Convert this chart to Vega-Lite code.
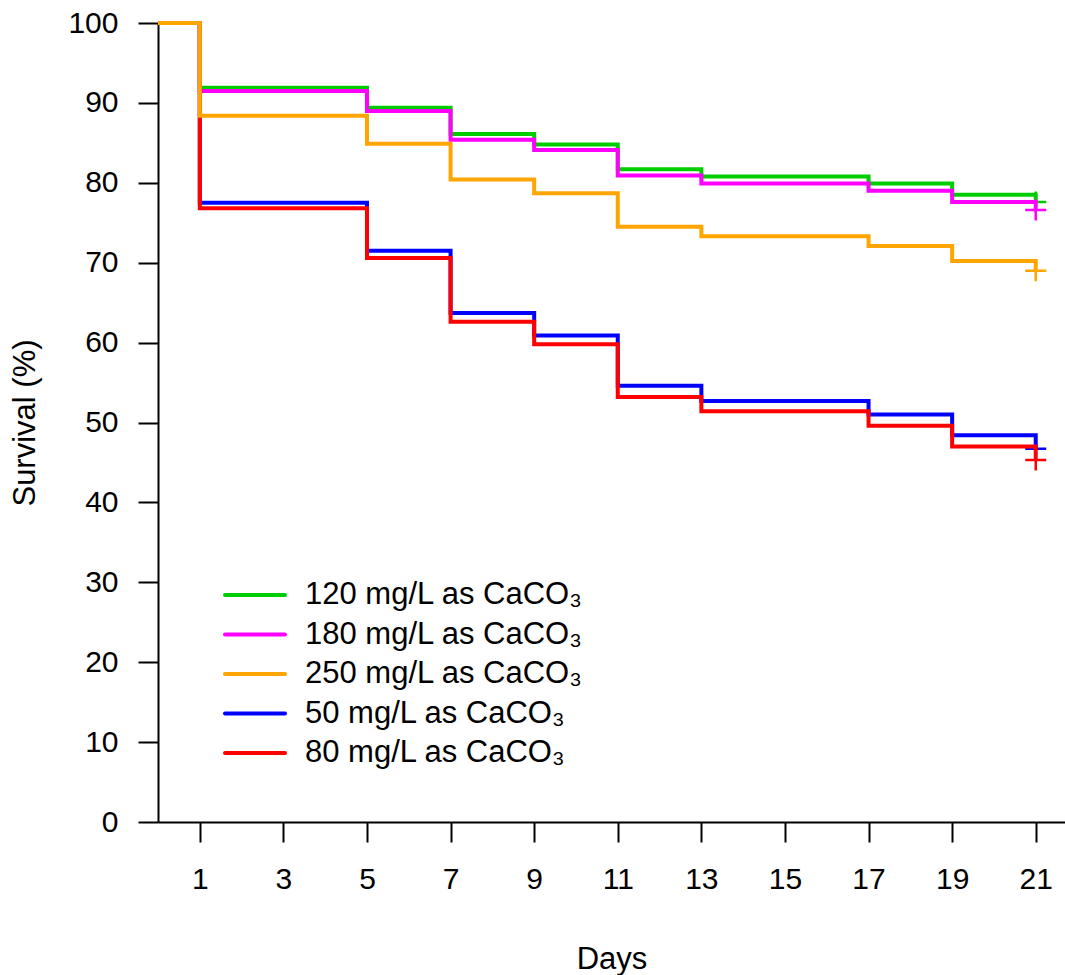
{
  "$schema": "https://vega.github.io/schema/vega-lite/v6.json",
  "width": 907,
  "height": 799,
  "autosize": {"type": "none"},
  "padding": {"left": 158, "top": 23, "right": 0, "bottom": 153},
  "config": {
    "font": "Liberation Sans",
    "view": {"stroke": null},
    "axis": {
      "domainColor": "black",
      "domainWidth": 2,
      "tickColor": "black",
      "tickWidth": 2,
      "tickSize": 20,
      "labelFont": "Liberation Sans",
      "labelFontSize": 30,
      "labelColor": "black",
      "labelFlush": false,
      "labelOverlap": false,
      "titleFont": "Liberation Sans",
      "titleFontSize": 31,
      "titleFontWeight": "normal",
      "titleColor": "black",
      "grid": false
    }
  },
  "data": {
    "values": [
      {"day": 0, "survival": 100, "group": "50 mg/L as CaCO₃"},
      {"day": 1, "survival": 77.5, "group": "50 mg/L as CaCO₃"},
      {"day": 5, "survival": 71.5, "group": "50 mg/L as CaCO₃"},
      {"day": 7, "survival": 63.7, "group": "50 mg/L as CaCO₃"},
      {"day": 9, "survival": 60.9, "group": "50 mg/L as CaCO₃"},
      {"day": 11, "survival": 54.6, "group": "50 mg/L as CaCO₃"},
      {"day": 13, "survival": 52.7, "group": "50 mg/L as CaCO₃"},
      {"day": 17, "survival": 51.0, "group": "50 mg/L as CaCO₃"},
      {"day": 19, "survival": 48.4, "group": "50 mg/L as CaCO₃"},
      {"day": 21, "survival": 46.7, "group": "50 mg/L as CaCO₃"},
      {"day": 0, "survival": 100, "group": "80 mg/L as CaCO₃"},
      {"day": 1, "survival": 76.8, "group": "80 mg/L as CaCO₃"},
      {"day": 5, "survival": 70.6, "group": "80 mg/L as CaCO₃"},
      {"day": 7, "survival": 62.6, "group": "80 mg/L as CaCO₃"},
      {"day": 9, "survival": 59.8, "group": "80 mg/L as CaCO₃"},
      {"day": 11, "survival": 53.2, "group": "80 mg/L as CaCO₃"},
      {"day": 13, "survival": 51.4, "group": "80 mg/L as CaCO₃"},
      {"day": 17, "survival": 49.6, "group": "80 mg/L as CaCO₃"},
      {"day": 19, "survival": 47.0, "group": "80 mg/L as CaCO₃"},
      {"day": 21, "survival": 45.3, "group": "80 mg/L as CaCO₃"},
      {"day": 0, "survival": 100, "group": "120 mg/L as CaCO₃"},
      {"day": 1, "survival": 91.9, "group": "120 mg/L as CaCO₃"},
      {"day": 5, "survival": 89.4, "group": "120 mg/L as CaCO₃"},
      {"day": 7, "survival": 86.1, "group": "120 mg/L as CaCO₃"},
      {"day": 9, "survival": 84.8, "group": "120 mg/L as CaCO₃"},
      {"day": 11, "survival": 81.7, "group": "120 mg/L as CaCO₃"},
      {"day": 13, "survival": 80.8, "group": "120 mg/L as CaCO₃"},
      {"day": 17, "survival": 79.9, "group": "120 mg/L as CaCO₃"},
      {"day": 19, "survival": 78.5, "group": "120 mg/L as CaCO₃"},
      {"day": 21, "survival": 77.6, "group": "120 mg/L as CaCO₃"},
      {"day": 0, "survival": 100, "group": "180 mg/L as CaCO₃"},
      {"day": 1, "survival": 91.5, "group": "180 mg/L as CaCO₃"},
      {"day": 5, "survival": 89.0, "group": "180 mg/L as CaCO₃"},
      {"day": 7, "survival": 85.4, "group": "180 mg/L as CaCO₃"},
      {"day": 9, "survival": 84.1, "group": "180 mg/L as CaCO₃"},
      {"day": 11, "survival": 80.9, "group": "180 mg/L as CaCO₃"},
      {"day": 13, "survival": 79.9, "group": "180 mg/L as CaCO₃"},
      {"day": 17, "survival": 79.0, "group": "180 mg/L as CaCO₃"},
      {"day": 19, "survival": 77.6, "group": "180 mg/L as CaCO₃"},
      {"day": 21, "survival": 76.6, "group": "180 mg/L as CaCO₃"},
      {"day": 0, "survival": 100, "group": "250 mg/L as CaCO₃"},
      {"day": 1, "survival": 88.4, "group": "250 mg/L as CaCO₃"},
      {"day": 5, "survival": 84.9, "group": "250 mg/L as CaCO₃"},
      {"day": 7, "survival": 80.4, "group": "250 mg/L as CaCO₃"},
      {"day": 9, "survival": 78.7, "group": "250 mg/L as CaCO₃"},
      {"day": 11, "survival": 74.5, "group": "250 mg/L as CaCO₃"},
      {"day": 13, "survival": 73.3, "group": "250 mg/L as CaCO₃"},
      {"day": 17, "survival": 72.1, "group": "250 mg/L as CaCO₃"},
      {"day": 19, "survival": 70.2, "group": "250 mg/L as CaCO₃"},
      {"day": 21, "survival": 69.0, "group": "250 mg/L as CaCO₃"}
    ]
  },
  "encoding": {
    "x": {
      "field": "day",
      "type": "quantitative",
      "scale": {"domain": [0, 21.7], "nice": false, "zero": false},
      "axis": {"orient": "bottom", "values": [1, 3, 5, 7, 9, 11, 13, 15, 17, 19, 21], "title": "Days", "labelPadding": 22, "titlePadding": 50}
    },
    "y": {
      "field": "survival",
      "type": "quantitative",
      "scale": {"domain": [0, 100], "nice": false},
      "axis": {"values": [0, 10, 20, 30, 40, 50, 60, 70, 80, 90, 100], "title": "Survival (%)", "labelPadding": 20, "titlePadding": 26}
    },
    "color": {
      "field": "group",
      "type": "nominal",
      "scale": {
        "domain": ["120 mg/L as CaCO₃", "180 mg/L as CaCO₃", "250 mg/L as CaCO₃", "50 mg/L as CaCO₃", "80 mg/L as CaCO₃"],
        "range": ["#00CD00", "#FF00FF", "#FFA500", "#0000FF", "#FF0000"]
      },
      "legend": {
        "orient": "none",
        "legendX": 67,
        "legendY": 555,
        "title": null,
        "padding": 0,
        "symbolType": "M-2,0H2",
        "symbolSize": 900,
        "symbolStrokeWidth": 4,
        "symbolOffset": 13,
        "labelOffset": 33,
        "labelFont": "Liberation Sans",
        "labelFontSize": 31,
        "labelColor": "black",
        "labelLimit": 500,
        "rowPadding": 7.5,
        "encode": {"symbols": {"update": {"strokeCap": {"value": "round"}}}}
      }
    }
  },
  "layer": [
    {
      "data": {"values": [{}]},
      "mark": {"type": "rule", "strokeWidth": 2},
      "encoding": {
        "x": {"datum": 0},
        "x2": {"datum": 21.7},
        "y": {"datum": 100},
        "color": {"value": "black"}
      }
    },
    {
      "transform": [{"filter": {"field": "group", "equal": "50 mg/L as CaCO₃"}}],
      "layer": [
        {"mark": {"type": "line", "interpolate": "step-after", "strokeWidth": 4}},
        {
          "transform": [{"filter": "datum.day == 21"}],
          "mark": {"type": "point", "shape": "M-1,0H1M0,-1V1", "size": 441, "filled": false, "strokeWidth": 2.5, "opacity": 1}
        }
      ]
    },
    {
      "transform": [{"filter": {"field": "group", "equal": "80 mg/L as CaCO₃"}}],
      "layer": [
        {"mark": {"type": "line", "interpolate": "step-after", "strokeWidth": 4}},
        {
          "transform": [{"filter": "datum.day == 21"}],
          "mark": {"type": "point", "shape": "M-1,0H1M0,-1V1", "size": 441, "filled": false, "strokeWidth": 2.5, "opacity": 1}
        }
      ]
    },
    {
      "transform": [{"filter": {"field": "group", "equal": "120 mg/L as CaCO₃"}}],
      "layer": [
        {"mark": {"type": "line", "interpolate": "step-after", "strokeWidth": 4}},
        {
          "transform": [{"filter": "datum.day == 21"}],
          "mark": {"type": "point", "shape": "M-1,0H1M0,-1V1", "size": 441, "filled": false, "strokeWidth": 2.5, "opacity": 1}
        }
      ]
    },
    {
      "transform": [{"filter": {"field": "group", "equal": "180 mg/L as CaCO₃"}}],
      "layer": [
        {"mark": {"type": "line", "interpolate": "step-after", "strokeWidth": 4}},
        {
          "transform": [{"filter": "datum.day == 21"}],
          "mark": {"type": "point", "shape": "M-1,0H1M0,-1V1", "size": 441, "filled": false, "strokeWidth": 2.5, "opacity": 1}
        }
      ]
    },
    {
      "transform": [{"filter": {"field": "group", "equal": "250 mg/L as CaCO₃"}}],
      "layer": [
        {"mark": {"type": "line", "interpolate": "step-after", "strokeWidth": 4}},
        {
          "transform": [{"filter": "datum.day == 21"}],
          "mark": {"type": "point", "shape": "M-1,0H1M0,-1V1", "size": 441, "filled": false, "strokeWidth": 2.5, "opacity": 1}
        }
      ]
    }
  ]
}
